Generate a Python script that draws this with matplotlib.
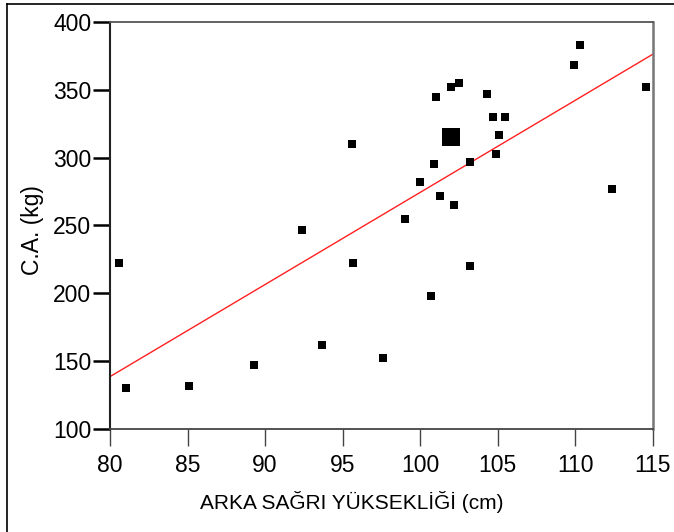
import matplotlib
matplotlib.use("Agg")
import matplotlib.pyplot as plt
from matplotlib.lines import Line2D
import numpy as np

plt.rcParams['font.family'] = ['Liberation Sans', 'DejaVu Sans']

# Data
x_vals = [110.3, 109.9, 114.6, 102.5, 102.0, 101.0, 104.3, 104.7, 105.5,
          105.1, 104.9, 103.2, 100.9, 100.0, 101.3, 102.2, 99.0, 112.4,
          95.6, 80.6, 81.0, 85.1, 89.3, 92.4, 93.7, 95.7, 97.6, 103.2, 100.7]
y_vals = [383, 368, 352, 355, 352, 345, 347, 330, 330,
          317, 303, 297, 295, 282, 272, 265, 255, 277,
          310, 222, 130, 132, 147, 247, 162, 222, 152, 220, 198]
mean_x = [102.0]
mean_y = [315]
fit_x = [80, 115]
fit_y = [138.6, 376.2]

xticks = [80, 85, 90, 95, 100, 105, 110, 115]
yticks = [100, 150, 200, 250, 300, 350, 400]

fig = plt.figure(figsize=(6.74, 5.32), dpi=100)
ax = fig.add_axes([110/674, 1-429/532, (652.7-110)/674, (429-22)/532])

ax.plot(fit_x, fit_y, color='#ff2020', lw=1.0, zorder=2)
ax.scatter(x_vals, y_vals, marker='s', s=40, color='black', linewidths=0, zorder=3)
ax.scatter(mean_x, mean_y, marker='s', s=180, color='black', linewidths=0, zorder=3)

ax.set_xlim(80, 115)
ax.set_ylim(100, 400)
ax.set_xticks(xticks)
ax.set_yticks(yticks)
ax.tick_params(axis='both', labelsize=16.5, direction='out')
ax.tick_params(axis='x', length=12, width=1.0, color='#444444', pad=6)
ax.tick_params(axis='y', length=12.5, width=1.8, color='black', pad=1)

ax.spines['left'].set_color('#222222')
ax.spines['left'].set_linewidth(1.5)
ax.spines['bottom'].set_color('#444444')
ax.spines['bottom'].set_linewidth(1.3)
ax.spines['top'].set_color('#555555')
ax.spines['top'].set_linewidth(1.3)
ax.spines['right'].set_color('#777777')
ax.spines['right'].set_linewidth(1.8)

ax.set_xlabel('ARKA SAĞRI YÜKSEKLİĞİ (cm)', fontsize=15)
ax.xaxis.set_label_coords(0.446, -0.152)
ax.set_ylabel('C.A. (kg)', fontsize=16.5)
ax.yaxis.set_label_coords(-0.122, 0.49)

# figure border (top and left)
fig.add_artist(Line2D([7/674, 1], [1-4/532, 1-4/532], color='black', lw=1.2, transform=fig.transFigure))
fig.add_artist(Line2D([7/674, 7/674], [0, 1-4/532], color='black', lw=1.2, transform=fig.transFigure))

fig.savefig('out.png', dpi=100)
